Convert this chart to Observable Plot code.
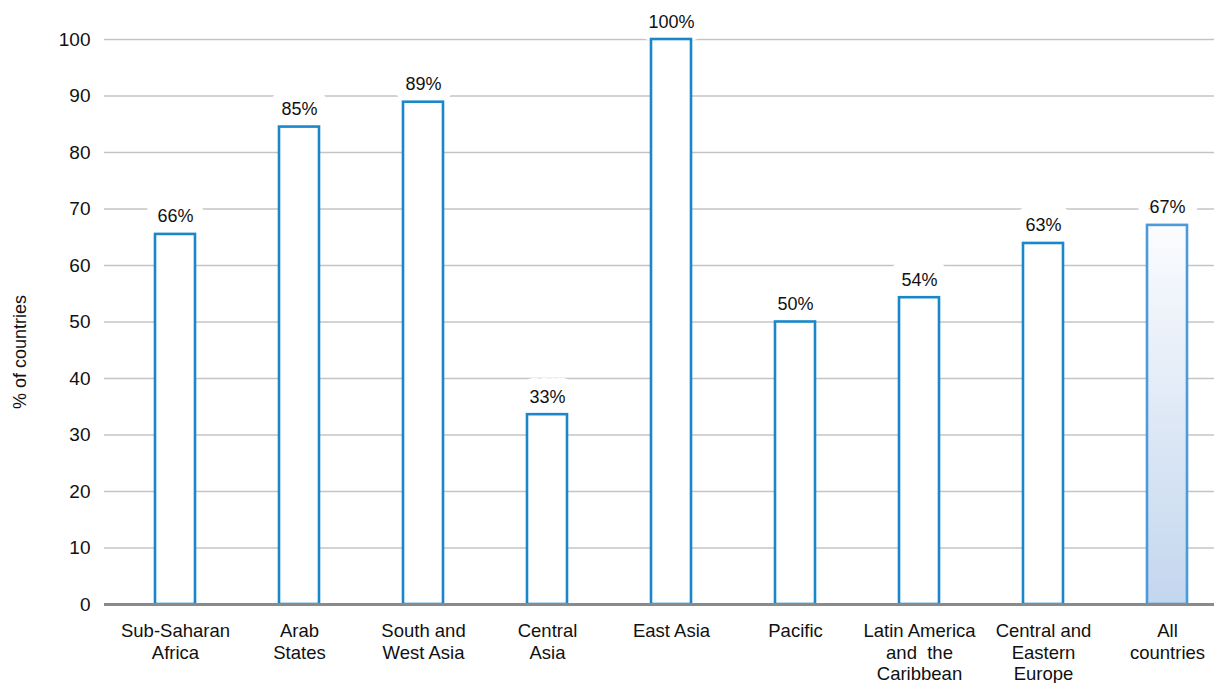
<!DOCTYPE html>
<html><head><meta charset="utf-8">
<script src="https://cdn.jsdelivr.net/npm/d3@7"></script>
<script src="https://cdn.jsdelivr.net/npm/@observablehq/plot@0.6"></script>
<style>
html,body{margin:0;padding:0;background:#fff;}
#wrap{position:relative;width:1214px;height:683px;}
#chart svg{display:block;}
#ylabel{position:absolute;left:20px;top:352px;transform:translate(-50%,-50%) rotate(-90deg);white-space:nowrap;
  font-family:'Liberation Sans', Arial, sans-serif;font-size:18px;color:#111;}
</style>
</head><body><div id="wrap"><div id="chart"></div><div id="ylabel"></div></div>
<script>
const categories = ["Sub-Saharan\nAfrica","Arab\nStates","South and\nWest Asia","Central\nAsia","East Asia","Pacific","Latin America\nand  the\nCaribbean","Central and\nEastern\nEurope","All\ncountries"];
const values = [65.5, 84.5, 88.9, 33.6, 100, 50, 54.3, 63.9, 67.1];
const valueLabels = ["66%","85%","89%","33%","100%","50%","54%","63%","67%"];
const yTicks = [0,10,20,30,40,50,60,70,80,90,100];
const highlightCategory = "All\ncountries";
const yLabel = "% of countries";

const data = categories.map((c, i) => ({category: c, value: values[i], label: valueLabels[i]}));
const regular = data.filter(d => d.category !== highlightCategory);
const highlighted = data.filter(d => d.category === highlightCategory);

const FONT = "'Liberation Sans', Arial, sans-serif";

const defs = () => {
  const g = d3.create("svg:defs");
  const lg = g.append("linearGradient").attr("id", "allGrad").attr("x1", 0).attr("y1", 0).attr("x2", 0).attr("y2", 1);
  lg.append("stop").attr("offset", "0%").attr("stop-color", "#fbfcfe");
  lg.append("stop").attr("offset", "100%").attr("stop-color", "#c3d6ee");
  return g.node();
};

const chart = Plot.plot({
  width: 1214,
  height: 683,
  marginLeft: 104,
  marginRight: 0,
  marginTop: 39,
  marginBottom: 79,
  style: {fontFamily: FONT, color: "#111", background: "#fff"},
  x: {domain: categories, range: [109.7, 1231.1], paddingInner: 0.68, paddingOuter: 0.34},
  y: {domain: [0, 100]},
  marks: [
    defs,
    Plot.gridY(yTicks, {stroke: "#c4c4c4", strokeOpacity: 1, strokeWidth: 1.5}),
    Plot.text(data, {x: "category", y: "value", text: "label", lineAnchor: "bottom", dy: -12, fontSize: 18, fill: "white", stroke: "white", strokeWidth: 24, strokeLinejoin: "round"}),
    Plot.barY(regular, {x: "category", y: "value", fill: "white", stroke: "#1a87c9", strokeWidth: 2.6}),
    Plot.barY(highlighted, {x: "category", y: "value", fill: "url(#allGrad)", stroke: "#4b9ad9", strokeWidth: 2.6}),
    Plot.ruleY([0], {stroke: "#8a8a8a", strokeWidth: 3}),
    Plot.text(data, {x: "category", y: "value", text: "label", lineAnchor: "bottom", dy: -12, fontSize: 18, fill: "#111"}),
    Plot.axisY(yTicks, {tickSize: 0, tickPadding: 14, fontSize: 19, label: null}),
    Plot.axisX({tickSize: 0, tickPadding: 17, fontSize: 18.5, lineHeight: 1.17, label: null})
  ]
});
document.getElementById("chart").appendChild(chart);
document.getElementById("ylabel").textContent = yLabel;
</script>
</body></html>
